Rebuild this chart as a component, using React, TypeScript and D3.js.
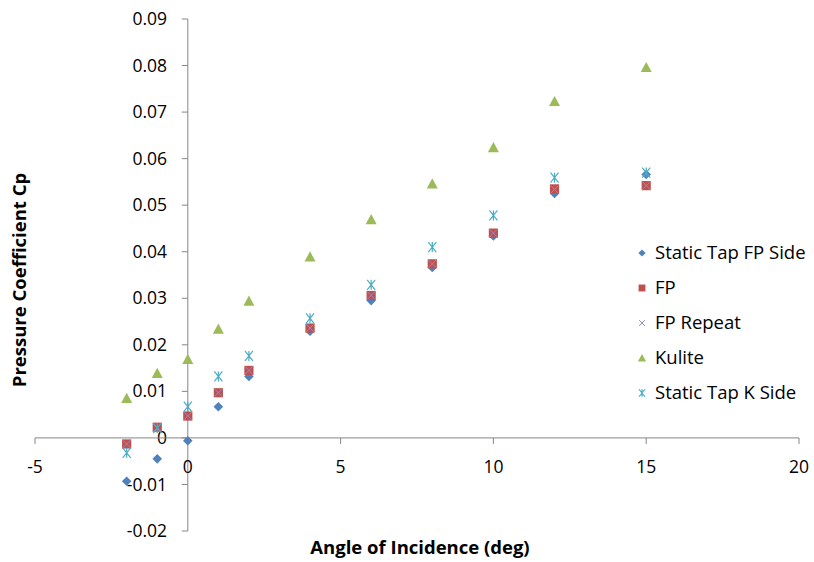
import React from "react";
import * as d3 from "d3";

const angles = [-2, -1, 0, 1, 2, 4, 6, 8, 10, 12, 15];
const staticTapFP = [-0.0093, -0.0045, -0.0006, 0.0067, 0.0132, 0.0229, 0.0295, 0.0366, 0.0434, 0.0525, 0.0566];
const fp = [-0.0013, 0.0023, 0.0047, 0.0097, 0.0145, 0.0236, 0.0306, 0.0374, 0.044, 0.0535, 0.0542];
const fpRepeat = [-0.0013, 0.0022, 0.0047, 0.0097, 0.0145, 0.0236, 0.0306, 0.0374, 0.044, 0.0534, 0.0542];
const kulite = [0.0085, 0.0139, 0.0169, 0.0234, 0.0294, 0.0389, 0.0469, 0.0546, 0.0624, 0.0723, 0.0796];
const staticTapK = [-0.0032, 0.0021, 0.0067, 0.0132, 0.0176, 0.0257, 0.0329, 0.041, 0.0478, 0.0559, 0.057];

const xTicks = [-5, 0, 5, 10, 15, 20];
const yTicks = [-0.02, -0.01, 0, 0.01, 0.02, 0.03, 0.04, 0.05, 0.06, 0.07, 0.08, 0.09];

const seriesNames = ["Static Tap FP Side", "FP", "FP Repeat", "Kulite", "Static Tap K Side"];
const seriesColors = ["#4F81BD", "#C0504D", "#9A88C2", "#9BBB59", "#4BACC6"];
const seriesKinds = ["diamond", "square", "x", "triangle", "asterisk"];
const seriesValues = [staticTapFP, fp, fpRepeat, kulite, staticTapK];

const FONT = "'Open Sans', 'Liberation Sans', sans-serif";

function Marker({ kind, color, x, y, s = 1 }: { kind: string; color: string; x: number; y: number; s?: number }) {
  if (kind === "diamond") {
    const r = 4.8 * s;
    return <path d={`M${x},${y - r}L${x + r},${y}L${x},${y + r}L${x - r},${y}Z`} fill={color} />;
  }
  if (kind === "square") {
    const r = 4.6 * s;
    return <rect x={x - r} y={y - r} width={2 * r} height={2 * r} fill={color} />;
  }
  if (kind === "triangle") {
    const r = 5.5 * s;
    return <path d={`M${x},${y - r}L${x + r},${y + r * 0.85}L${x - r},${y + r * 0.85}Z`} fill={color} />;
  }
  if (kind === "x") {
    const r = 3.8 * s;
    return (
      <path d={`M${x - r},${y - r}L${x + r},${y + r}M${x - r},${y + r}L${x + r},${y - r}`} stroke={color} strokeWidth={1} fill="none" />
    );
  }
  const r = 5 * s;
  return (
    <path
      d={`M${x - r * 0.8},${y - r}L${x + r * 0.8},${y + r}M${x - r * 0.8},${y + r}L${x + r * 0.8},${y - r}M${x},${y - r}L${x},${y + r}`}
      stroke={color}
      strokeWidth={1.2}
      fill="none"
    />
  );
}

export default function App() {
  const x = d3.scaleLinear().domain([-5, 20]).range([35, 799]);
  const y = d3.scaleLinear().domain([-0.02, 0.09]).range([531, 19]);
  const axisColor = "#868686";
  const x0 = x(0);
  const y0 = y(0);
  const fmt = (v: number) => (Math.abs(v) < 1e-9 ? "0" : d3.format(".2f")(v).replace("\u2212", "-"));

  return (
    <svg width={814} height={562} style={{ position: "absolute", left: 0, top: 0, background: "#fff" }} fontFamily={FONT}>
      <rect width={814} height={562} fill="#fff" />
      {/* y axis */}
      <line x1={x0} x2={x0} y1={y(0.09)} y2={y(-0.02)} stroke={axisColor} strokeWidth={1} />
      {yTicks.map((t) => (
        <g key={t}>
          <line x1={x0 - 6} x2={x0} y1={y(t)} y2={y(t)} stroke={axisColor} />
          <text x={167} y={y(t)} dy="0.35em" textAnchor="end" fontSize={17.5} fill="#000">
            {fmt(t)}
          </text>
        </g>
      ))}
      {/* x axis */}
      <line x1={x(-5)} x2={x(20)} y1={y0} y2={y0} stroke={axisColor} strokeWidth={1} />
      {xTicks.map((t) => (
        <g key={t}>
          <line x1={x(t)} x2={x(t)} y1={y0} y2={y0 + 6} stroke={axisColor} />
          <text x={x(t)} y={467} dy="0.35em" textAnchor="middle" fontSize={17.5} fill="#000">
            {String(t)}
          </text>
        </g>
      ))}
      {/* data */}
      {seriesValues.map((vals, si) => (
        <g key={si}>
          {vals.map((v, i) => (
            <Marker key={i} kind={seriesKinds[si]} color={seriesColors[si]} x={x(angles[i])} y={y(v)} />
          ))}
        </g>
      ))}
      {/* legend */}
      {seriesNames.map((n, i) => (
        <g key={n}>
          <Marker kind={seriesKinds[i]} color={seriesColors[i]} x={642} y={253 + i * 35} s={0.75} />
          <text x={655} y={253 + i * 35} dy="0.35em" fontSize={18.5} fill="#000">
            {n}
          </text>
        </g>
      ))}
      {/* titles */}
      <text x={420} y={548} dy="0.35em" textAnchor="middle" fontSize={18.5} fontWeight="bold" fill="#000">
        Angle of Incidence (deg)
      </text>
      <text transform="translate(20,280) rotate(-90)" dy="0.35em" textAnchor="middle" fontSize={18.5} fontWeight="bold" fill="#000">
        Pressure Coefficient Cp
      </text>
    </svg>
  );
}
